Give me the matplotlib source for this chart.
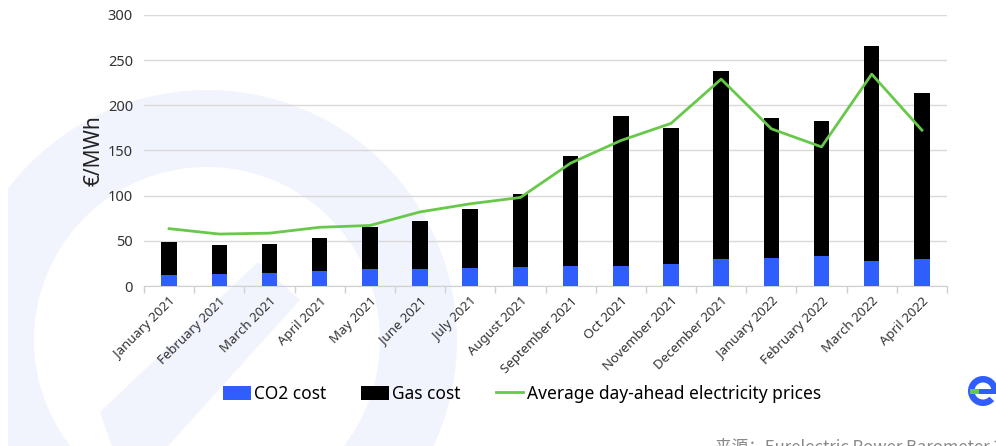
import numpy as np
import matplotlib.pyplot as plt
from matplotlib.patches import Wedge, Polygon, Rectangle

plt.rcParams['font.family'] = ['Noto Sans', 'DejaVu Sans']

months = ["January 2021", "February 2021", "March 2021", "April 2021", "May 2021",
          "June 2021", "July 2021", "August 2021", "September 2021", "Oct 2021",
          "November 2021", "December 2021", "January 2022", "February 2022",
          "March 2022", "April 2022"]
co2_cost = [12, 13.5, 14.5, 16.5, 19, 19, 20, 21, 22.5, 22, 24.5, 29.5, 31.5, 33, 28, 29.5]
gas_cost = [37, 32, 32, 37, 46, 53, 65, 81, 121.5, 166, 150.5, 208.5, 154.5, 149.5, 238, 184]
day_ahead = [63.5, 57.5, 58.5, 65, 67, 82, 91, 98, 136, 161, 180, 229, 174, 154, 234.5, 172.5]

BLUE = "#2f5efc"
GREEN = "#68c84a"
WM = "#f2f4fd"

fig = plt.figure(figsize=(9.96, 4.46), dpi=100)

# background watermark, pixel coords (y down)
bg = fig.add_axes([0, 0, 1, 1], zorder=0)
bg.set_xlim(0, 996)
bg.set_ylim(446, 0)
bg.axis("off")
bg.add_patch(Wedge((207, 340), 250, 0, 360, width=77, color=WM, lw=0))
bg.add_patch(Polygon([(100, 412), (258, 262), (300, 300), (168, 446), (112, 446)],
                     closed=True, color=WM, lw=0))
bg.add_patch(Rectangle((0, 0), 8, 446, color="white", lw=0))
# logo (y inverted, so the gap angles are mirrored)
bg.add_patch(Wedge((983, 391), 15, 42, 360, width=6.5, color=BLUE, lw=0))
bg.add_patch(Rectangle((970, 389), 9, 5, color=GREEN, lw=0))
bg.add_patch(Rectangle((979, 389), 19, 5, color=BLUE, lw=0))

ax = fig.add_axes([144 / 996, 1 - 286 / 446, 803 / 996, 271 / 446], zorder=1)
ax.patch.set_alpha(0)

x = np.arange(len(months))
b1 = ax.bar(x, co2_cost, width=0.31, color=BLUE, label="CO2 cost", zorder=3)
b2 = ax.bar(x, gas_cost, width=0.31, bottom=co2_cost, color="black", label="Gas cost", zorder=3)
l1, = ax.plot(x, day_ahead, color=GREEN, lw=2, label="Average day-ahead electricity prices", zorder=4)

ax.set_xlim(-0.5, len(months) - 0.5)
ax.set_ylim(0, 300)
ax.set_yticks(range(0, 301, 50))
ax.tick_params(axis="y", length=0, pad=8, labelsize=10.5, labelcolor="#333333")
ax.set_xticks(x)
ax.set_xticklabels(months, rotation=45, ha="right", rotation_mode="anchor",
                   fontsize=9.5, color="#333333")
ax.tick_params(axis="x", which="major", length=0, pad=6)
ax.set_xticks(np.arange(len(months) + 1) - 0.5, minor=True)
ax.tick_params(axis="x", which="minor", length=5, color="#d0d0d0", width=1)

ax.grid(axis="y", color="#d9d9d9", lw=1, zorder=0)
for s in ["top", "right", "left"]:
    ax.spines[s].set_visible(False)
ax.spines["bottom"].set_color("#d0d0d0")

ax.set_ylabel("€/MWh", fontsize=15, color="#222222")
ax.yaxis.set_label_coords(-0.049, 0.5)

fig.legend(handles=[b1, b2, l1], loc="center", bbox_to_anchor=(522 / 996, 1 - 394 / 446),
           ncol=3, frameon=False, fontsize=12.5, handlelength=1.6, handletextpad=0.2,
           columnspacing=2.0, handleheight=0.9)

# source line is cut by the bottom/right edge in the original too
fig.text(715 / 996, 1 - 439 / 446, "来源：Eurelectric Power Barometer 2022",
         fontsize=12, color="#888888", style="italic", va="top", ha="left",
         family=["Noto Sans CJK SC", "DejaVu Sans"])

fig.savefig("out.png", dpi=100)
